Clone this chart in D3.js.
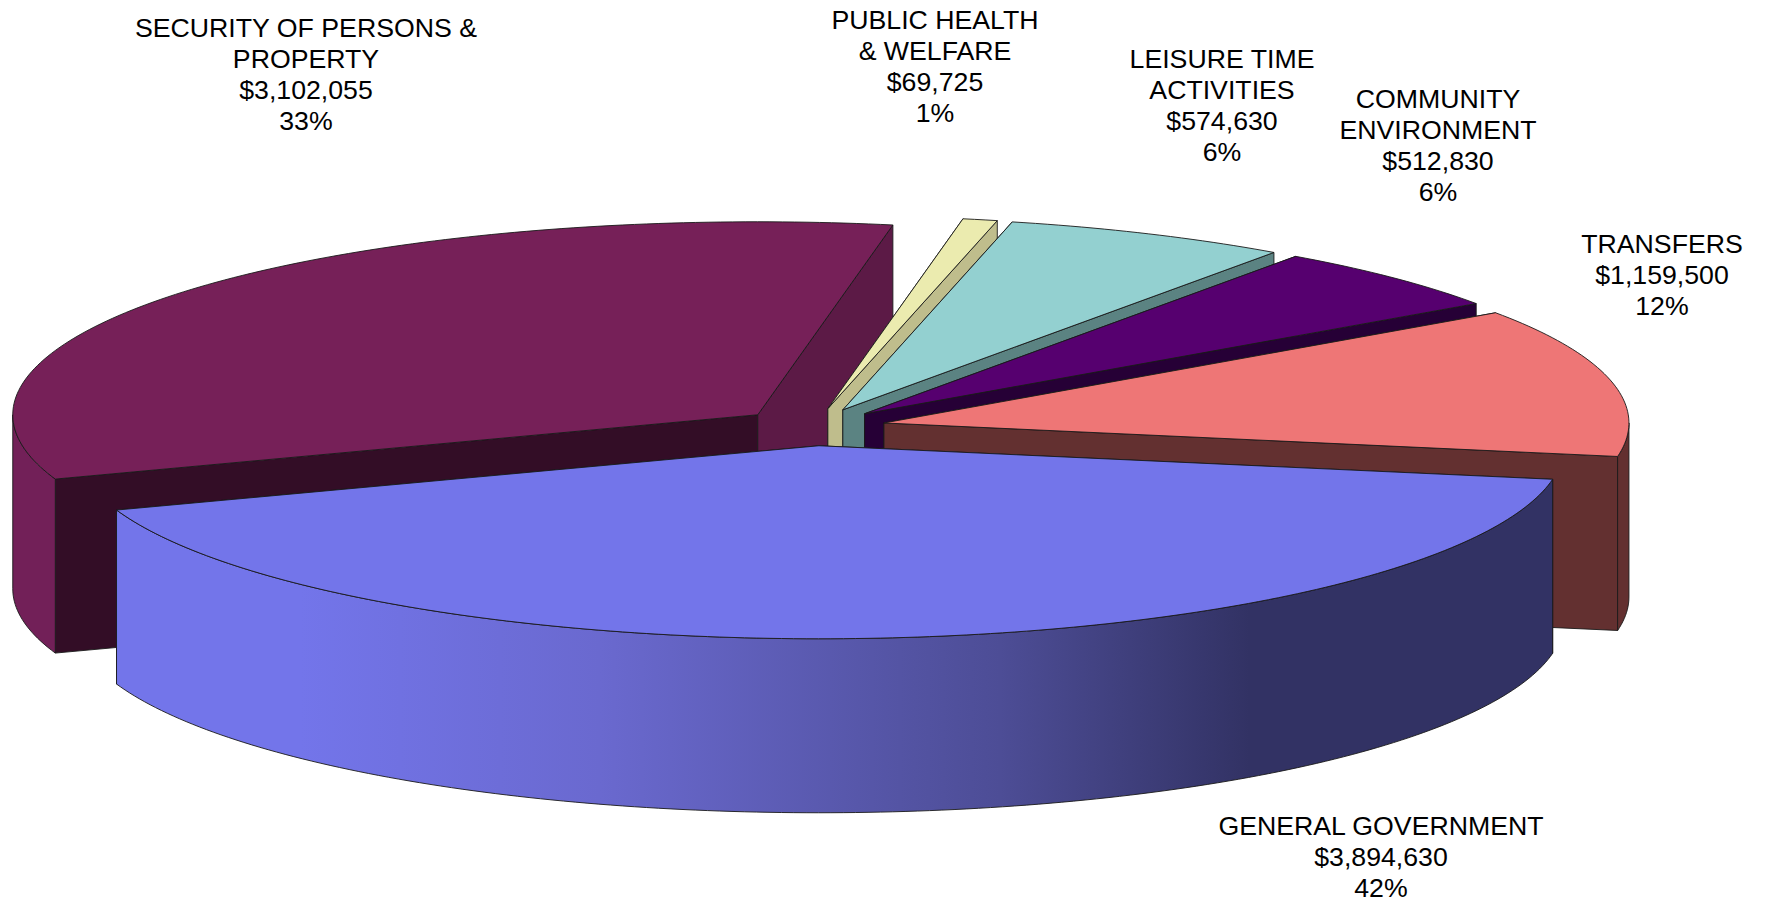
<!DOCTYPE html>
<html>
<head>
<meta charset="utf-8">
<script src="https://cdn.jsdelivr.net/npm/d3@7"></script>
<style>
  html, body { margin: 0; padding: 0; background: #fff; }
  svg { display: block; }
  text { font-family: "Liberation Sans", Arial, sans-serif; font-size: 26.7px; fill: #000; text-anchor: middle; }
</style>
</head>
<body>
<div id="chart"></div>
<script>
// slices, in the order the pie runs clockwise
const names = ["GENERAL GOVERNMENT", "SECURITY OF PERSONS &|PROPERTY", "PUBLIC HEALTH|& WELFARE", "LEISURE TIME|ACTIVITIES", "COMMUNITY|ENVIRONMENT", "TRANSFERS"]
const values = [3894630, 3102055, 69725, 574630, 512830, 1159500]
const percents = ["42%", "33%", "1%", "6%", "6%", "12%"]

const topColors = ["#7375ea", "#762058", "#ebebaf", "#93d0d0", "#56006f", "#ee7676"]
const startWallColors = ["#323264", "#330d26", "#bfbd8c", "#5b8382", "#260036", "#633030"]
const endWallColors = ["#323264", "#5c1a46", "#bfbd8c", "#5b8382", "#260036", "#633030"]
const outerColors = ["url(#blueSide)", "#722058", "#bfbd8c", "#5b8382", "#260036", "#633030"]

// label anchors (centre x, first baseline y)
const labelX = [1381, 306, 935, 1222, 1438, 1662]
const labelY = [835, 37, 29, 68, 108, 253]
const lineGap = 31

// back to front
const drawOrder = [1, 2, 3, 4, 5, 0]

const width = 1765, height = 902
const explode = 0.0975
const depth = 174

let x = d3.scaleLinear().domain([-1, 1]).range([813 - 745, 813 + 745])
let y = d3.scaleLinear().domain([-1, 1]).range([427 - 193, 427 + 193])

let svg = d3.select("#chart").append("svg")
  .attr("width", width)
  .attr("height", height)

// the side of the big slice is not a straight ramp, so a few stops
const gradX1 = 300, gradX2 = 1250
let grad = svg.append("defs").append("linearGradient")
  .attr("id", "blueSide")
  .attr("gradientUnits", "userSpaceOnUse")
  .attr("x1", gradX1).attr("x2", gradX2)
  .attr("y1", 0).attr("y2", 0)
grad.selectAll("stop")
  .data([[300, "#7375ea"], [600, "#6a69cf"], [900, "#5454a4"], [1000, "#4d4d96"], [1250, "#323264"]])
  .enter()
  .append("stop")
  .attr("offset", d => (d[0] - gradX1) / (gradX2 - gradX1))
  .attr("stop-color", d => d[1])

let pie = d3.pie()
  .sort(null)
  .startAngle(100 * Math.PI / 180)
  .endAngle(460 * Math.PI / 180)

let slices = pie(values)

let line = d3.line().x(d => x(d[0])).y(d => y(d[1]) + (d[2] || 0))

// angle 0 is at the top, clockwise, same as d3.arc
function rim(a, off, r = 1, drop = 0) {
  return [off[0] + r * Math.sin(a), off[1] - r * Math.cos(a), drop]
}

function arcPoints(a0, a1, off, drop = 0) {
  let n = Math.max(2, Math.ceil((a1 - a0) * 60))
  return d3.range(n + 1).map(i => rim(a0 + (a1 - a0) * i / n, off, 1, drop))
}

function wall(a, off) {
  return line([[off[0], off[1], 0], rim(a, off), rim(a, off, 1, depth), [off[0], off[1], depth]]) + "Z"
}

// only the part of the rim between 90 and 270 degrees faces the viewer
function outerWall(s, off) {
  let tau = 2 * Math.PI
  let parts = []
  for (let k of [0, 1]) {
    let a0 = Math.max(s.startAngle, Math.PI / 2 + k * tau)
    let a1 = Math.min(s.endAngle, 1.5 * Math.PI + k * tau)
    if (a1 > a0) parts.push(line(arcPoints(a0, a1, off).concat(arcPoints(a0, a1, off, depth).reverse())) + "Z")
  }
  return parts.join("")
}

drawOrder.forEach(i => {
  let s = slices[i]
  let mid = (s.startAngle + s.endAngle) / 2
  let off = [explode * Math.sin(mid), -explode * Math.cos(mid)]
  let g = svg.append("g").attr("stroke", "#1a1a1a").attr("stroke-width", 0.9).attr("stroke-linejoin", "round")

  g.append("path").attr("fill", startWallColors[i]).attr("d", wall(s.startAngle, off))
  g.append("path").attr("fill", endWallColors[i]).attr("d", wall(s.endAngle, off))
  g.append("path").attr("fill", outerColors[i]).attr("d", outerWall(s, off))
  g.append("path").attr("fill", topColors[i])
    .attr("d", line([[off[0], off[1], 0]].concat(arcPoints(s.startAngle, s.endAngle, off))) + "Z")
})

names.forEach((name, i) => {
  let lines = name.split("|").concat(["$" + d3.format(",")(values[i]), percents[i]])
  svg.append("g").selectAll("text")
    .data(lines)
    .enter()
    .append("text")
    .attr("x", labelX[i])
    .attr("y", (d, j) => labelY[i] + j * lineGap)
    .text(d => d)
})
</script>
</body>
</html>
